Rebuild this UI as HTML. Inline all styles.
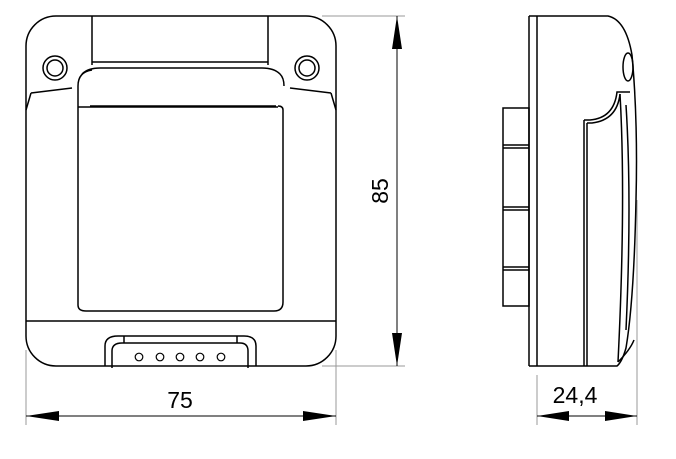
<!DOCTYPE html>
<html><head><style>html,body{margin:0;padding:0;background:#fff}svg{display:block}</style></head>
<body>
<svg width="676" height="459" viewBox="0 0 676 459" xmlns="http://www.w3.org/2000/svg" fill="none" stroke="#000" stroke-width="1.5">
<!-- front view -->
<path d="M56,16 H306 A30,30 0 0 1 336,46 V336 A30,30 0 0 1 306,366 H56 A30,30 0 0 1 26,336 V46 A30,30 0 0 1 56,16 Z"/>
<path d="M92,16 V65 M268,16 V65 M92,62 H268"/>
<path d="M82,74 Q88,68 100,68 H262 Q274,68 280,74 Q284,78 284,86"/>
<path d="M78,86 Q78,72 92,70 M78,86 V305 Q78,311 86,311 H274 Q283,311 283,302 V110 Q283,106 278,106"/>
<path d="M78,107 H278 M90,106 H276"/>
<path d="M31,93 L72,88 M331,93 L290,88 M31,93 L26,110 M331,93 L336,110"/>
<circle cx="55" cy="68" r="12"/><circle cx="55" cy="68" r="8"/>
<circle cx="307" cy="68" r="12"/><circle cx="307" cy="68" r="8"/>
<path d="M26,321 H336"/>
<path d="M105,366 V346 Q105,336 118,336 H244 Q256,336 256,346 V366"/>
<path d="M112,368 V351 Q112,343 122,343 H240 Q248,343 248,351 V368 M124,336 V343 M237,336 V343"/>
<g stroke-width="1.2"><circle cx="139" cy="357" r="3.8"/><circle cx="160" cy="357" r="3.8"/><circle cx="180" cy="357" r="3.8"/><circle cx="200" cy="357" r="3.8"/><circle cx="221" cy="357" r="3.8"/></g>
<!-- dimensions front -->
<g stroke="#999" stroke-width="1"><path d="M26,350 V425 M336,350 V425 M322,16 H405 M322,366 H405 M537,375 V425 M637,200 V425"/></g>
<path stroke-width="1" d="M26,416 H336 M397,16 V366 M537,416 H637"/>
<g fill="#000" stroke="none">
<path d="M26,416 L59,411 L59,421 Z"/><path d="M336,416 L303,411 L303,421 Z"/>
<path d="M397,16 L392,49 L402,49 Z"/><path d="M397,366 L392,333 L402,333 Z"/>
<path d="M537,416 L569,411 L569,421 Z"/><path d="M637,416 L605,411 L605,421 Z"/>
<g font-family="Liberation Sans, sans-serif" font-size="23">
<text x="180" y="408" text-anchor="middle">75</text>
<text x="575" y="403" text-anchor="middle">24,4</text>
<text transform="translate(388,191) rotate(-90)" text-anchor="middle">85</text>
</g></g>
<!-- side view -->
<path d="M529,16 V366 M537,16 V366"/>
<path d="M529,16 H608 Q626,20 632,55 Q638,120 636,200 Q634,300 626,348 Q622,362 617,366 H529"/>
<path d="M503,108 H529 V306 H503 Z M503,145 H529 M503,148 H529 M503,207 H529 M503,210 H529 M503,267 H529 M503,270 H529"/>
<path d="M584,366 V120 M587,366 V123"/>
<path d="M584,120 H590 Q614,118 617,92 H630 M587,123 H592 Q617,120 620,94"/>
<ellipse cx="628" cy="67" rx="5" ry="14"/>
<path d="M620,94 Q626,200 618,362 M626,105 Q632,200 626,330"/>
<path d="M618,362 Q630,350 634,340"/>
</svg>
</body></html>
